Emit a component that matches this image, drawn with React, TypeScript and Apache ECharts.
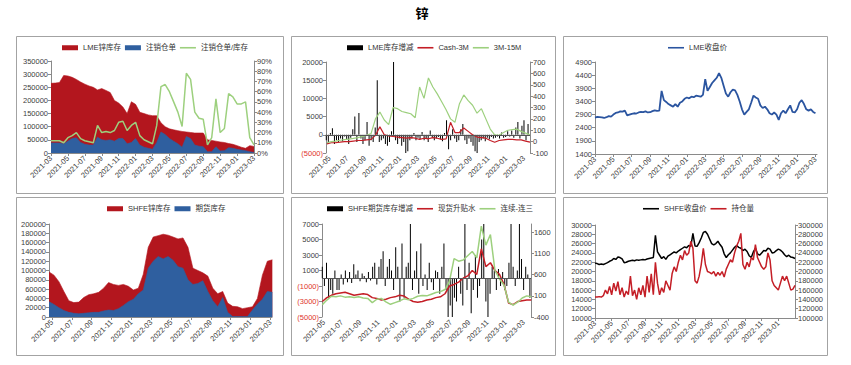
import React, { useEffect, useRef } from 'react';
import * as echarts from 'echarts';

// ---------------- tick labels ----------------
const TICKS_2103_2303 = ['2021-03', '2021-05', '2021-07', '2021-09', '2021-11', '2022-01', '2022-03', '2022-05', '2022-07', '2022-09', '2022-11', '2023-01', '2023-03'];
const TICKS_2105_2303 = ['2021-05', '2021-07', '2021-09', '2021-11', '2022-01', '2022-03', '2022-05', '2022-07', '2022-09', '2022-11', '2023-01', '2023-03'];
const TICKS_2103_2301 = ['2021-03', '2021-05', '2021-07', '2021-09', '2021-11', '2022-01', '2022-03', '2022-05', '2022-07', '2022-09', '2022-11', '2023-01'];

// sampling steps (in months)
const HALF_MONTH = 0.5;
const QUARTER_MONTH = 0.25;
const WEEK = 12 / 52;

// ---------------- Panel 1: LME stock & cancelled warrants (half-monthly from 2021-03-01) ----------------
const P1_START = '2021-03-01';
const LME_STOCK = [265000, 266000, 268000, 295000, 293000, 288000, 280000, 270000, 262000, 255000, 250000, 240000, 245000, 238000, 230000, 200000, 190000, 175000, 150000, 195000, 185000, 155000, 150000, 145000, 142000, 142000, 115000, 100000, 92000, 88000, 85000, 82000, 80000, 78000, 76000, 76000, 76000, 50000, 48000, 45000, 42000, 40000, 36000, 33000, 28000, 22000, 18000, 28000, 25000];
const LME_CANCELLED = [38000, 38000, 38000, 35000, 45000, 55000, 58000, 40000, 33000, 30000, 30000, 60000, 50000, 48000, 50000, 45000, 55000, 55000, 35000, 40000, 55000, 30000, 22000, 18000, 14000, 40000, 80000, 70000, 55000, 45000, 35000, 22000, 63000, 55000, 30000, 26000, 24000, 5000, 5000, 24000, 8000, 9000, 20000, 18000, 14000, 11000, 9000, 5000, 2000];
const LME_CANCEL_RATIO = [12, 12, 12, 10, 15, 17, 20, 14, 12, 11, 10, 27, 20, 21, 20, 22, 30, 31, 22, 27, 30, 17, 13, 11, 9, 27, 65, 67, 60, 50, 40, 26, 78, 72, 40, 34, 33, 8, 15, 53, 20, 24, 58, 55, 48, 48, 50, 15, 8];

// ---------------- Panel 2: LME stock change (weekly), spreads (half-monthly) ----------------
const P2_BAR_START = '2021-04-20';
const LME_STOCK_CHANGE = [-1500, -2000, 500, 1800, -2500, -1500, -2000, -1000, -1800, -500, -1200, -2500, -800, 1500, 5000, -2000, 6000, -1000, -2500, -1500, 3500, -3000, -1500, -2000, 2000, 15000, -2000, -1500, -1000, -2500, -3000, -2000, 1000, 20000, -1500, -2500, -1000, -3000, -2000, -5000, -4500, -1500, -1000, 500, -1500, -800, -1200, 800, -1500, -1000, -2000, 1200, -800, -1500, -1000, -600, -1200, -1800, 500, 4000, -4000, -1500, 1500, -1000, -2000, -1500, 1500, 3000, -1500, -2500, -1000, -2000, -3000, -4500, -5000, -2000, -1500, -1000, -1800, -800, -1200, -600, -1000, -800, -500, -1000, 600, -800, -600, 1000, -500, 1200, -800, 2000, 3500, -1000, 2500, 4000, -1500, 3000];
const P2_LINE_START = '2021-04-22';
const CASH_3M = [-20, -10, -8, -5, 0, 0, 5, 10, 10, 15, 20, 55, 130, 60, 50, 45, 40, 35, 30, 35, 30, 20, 30, 25, 35, 30, 20, 25, 170, 80, 80, 120, 90, 60, 40, 35, 30, 10, -5, 10, 15, 20, 20, 15, 15, 5, -5];
const M3_15M = [-10, 0, 5, 12, 18, 22, 28, 35, 45, 55, 70, 200, 260, 190, 150, 300, 290, 265, 255, 245, 210, 480, 380, 560, 480, 420, 350, 280, 200, 170, 330, 410, 360, 320, 250, 290, 200, 110, 60, 55, 80, 100, 105, 110, 90, 75, 60];

// ---------------- Panel 3: LME close (quarter-monthly from 2021-03-01) ----------------
const P3_START = '2021-03-01';
const LME_CLOSE = [2780, 2810, 2800, 2790, 2770, 2800, 2840, 2820, 2900, 2960, 2980, 3020, 3010, 3050, 2870, 2900, 2930, 2950, 2940, 2980, 3000, 2990, 3020, 2980, 2990, 3030, 3060, 3040, 3050, 3800, 3450, 3380, 3300, 3250, 3200, 3300, 3200, 3350, 3400, 3500, 3550, 3520, 3580, 3560, 3620, 3600, 3580, 3650, 4250, 3800, 3950, 4100, 4200, 4300, 4480, 4300, 4000, 3700, 3580, 3750, 3850, 3820, 3650, 3400, 3100, 2900, 3000, 3100, 3350, 3620, 3550, 3500, 3250, 3150, 3200, 3100, 2950, 2900, 2980, 2900, 2700, 2950, 3050, 2950, 3100, 3250, 3000, 2980, 3100, 3350, 3450, 3300, 3100, 3050, 3100, 3000, 2950];

// ---------------- Panel 4: SHFE stock (half-monthly from 2021-04-22) ----------------
const P4_START = '2021-04-22';
const SHFE_STOCK = [97000, 90000, 76000, 55000, 35000, 31000, 32000, 42000, 48000, 50000, 53000, 62000, 74000, 70000, 68000, 70000, 66000, 58000, 62000, 92000, 150000, 172000, 175000, 178000, 176000, 172000, 168000, 170000, 150000, 105000, 100000, 95000, 88000, 62000, 50000, 55000, 30000, 23000, 22000, 18000, 20000, 22000, 40000, 90000, 120000, 123000];
const SHFE_FUTURES_STOCK = [33000, 27000, 20000, 14000, 10000, 8000, 7000, 8000, 9000, 10000, 10000, 13000, 15000, 14000, 18000, 25000, 33000, 38000, 50000, 58000, 105000, 120000, 130000, 125000, 130000, 122000, 108000, 105000, 80000, 70000, 72000, 78000, 55000, 35000, 22000, 42000, 10000, 1000, 1000, 1000, 1000, 15000, 28000, 38000, 55000, 53000];

// ---------------- Panel 5: SHFE futures stock change (weekly), spot premium & spread (half-monthly) ----------------
const P5_START = '2021-04-26';
const SHFE_STOCK_CHANGE = [1500, -1000, 2000, -2500, -1500, -2000, 1000, -1500, -1500, 500, -800, 1000, -500, 800, -600, 1800, 500, 1000, -400, 600, 300, -500, 800, -300, 1500, 2000, -800, 1500, 2500, 3500, -1000, 1500, 2500, 1000, -1500, 4000, 1500, -3000, 4500, -2500, 1500, 2000, 7000, -1500, 1000, 3500, -2000, 4500, -1000, 500, -1500, 2000, -500, -1500, 1000, 800, -2000, 1500, 4500, -1500, -5000, -3500, -5000, -2500, -3000, 1500, -2000, -3500, 7000, -1500, 2000, -4500, -1500, 3000, -2500, -1000, 5000, 7000, -3000, -5000, -2000, 1500, 1000, -1500, 1200, -1000, 800, -1500, -1000, 2000, 7000, 1500, -1000, 1000, 7000, 2500, -1500, 1500, 500, -2500];
const SPOT_PREMIUM = [-3000, -2500, -2200, -2000, -1900, -1800, -2000, -2200, -2100, -2000, -2100, -2500, -2600, -2800, -2700, -2500, -2400, -2200, -2300, -2700, -3000, -3100, -3000, -2800, -2700, -2500, -2400, -2000, -1000, -800, -500, 0, 300, 1000, 500, 3800, 1500, 2000, 1000, 500, -800, -3200, -3400, -3000, -2900, -2800, -2800];
const CONT_MINUS_THIRD = [-110, 0, 90, 80, 100, 70, 80, 60, 80, 50, 40, -60, 20, 40, -40, -100, -60, -20, 30, 10, 40, 90, 110, 100, 140, 180, 200, 250, 450, 980, 920, 950, 1050, 1150, 1000, 1750, 1300, 1550, 700, 500, 350, -50, -120, -50, 50, 100, 80];

// ---------------- Panel 6: SHFE close & open interest (quarter-monthly from 2021-03-01) ----------------
const P6_START = '2021-03-01';
const SHFE_CLOSE = [21800, 21700, 21500, 21600, 21500, 21700, 21900, 22200, 22400, 22800, 22600, 23100, 23000, 22700, 21900, 22000, 22200, 22300, 22400, 22300, 22500, 22400, 22500, 22600, 22500, 22700, 22800, 22900, 23000, 27800, 24200, 23500, 22800, 23200, 22600, 23300, 23600, 23900, 24200, 24000, 24400, 24700, 25000, 25300, 25100, 25600, 25400, 28200, 25500, 25400, 26200, 27200, 28400, 28600, 28000, 27000, 26000, 25700, 26000, 26500, 25800, 25200, 23800, 23000, 23600, 24000, 24600, 25200, 25600, 25200, 25000, 24500, 24800, 24300, 23400, 23000, 24200, 25000, 23800, 23500, 24000, 24500, 24400, 25000, 24800, 24000, 24100, 24500, 24800, 24600, 24200, 23600, 23200, 23500, 23100, 23000, 22800];
const OPEN_INTEREST = [145000, 145000, 146000, 145000, 148000, 160000, 152000, 168000, 150000, 175000, 158000, 178000, 150000, 165000, 145000, 158000, 150000, 190000, 148000, 160000, 140000, 165000, 150000, 170000, 145000, 190000, 155000, 195000, 150000, 220000, 175000, 150000, 165000, 155000, 180000, 170000, 160000, 195000, 210000, 200000, 220000, 235000, 225000, 245000, 235000, 240000, 265000, 250000, 180000, 175000, 190000, 215000, 250000, 215000, 200000, 198000, 195000, 200000, 190000, 198000, 192000, 200000, 188000, 205000, 215000, 225000, 220000, 240000, 255000, 265000, 282000, 215000, 205000, 220000, 210000, 230000, 225000, 258000, 230000, 220000, 210000, 205000, 210000, 240000, 225000, 180000, 170000, 165000, 160000, 175000, 190000, 180000, 190000, 175000, 160000, 162000, 170000];

// ---------------- helpers ----------------
// month index counted from 2021-01 (2021-03 -> 2)
const toMonth = (s: string) => {
  const [y, m, d] = s.split('-').map(Number);
  return (y - 2021) * 12 + (m - 1) + ((d || 1) - 1) / 30;
};
const fmtMonth = (v: number) => {
  const r = Math.round(v);
  const y = 2021 + Math.floor(r / 12);
  const m = r - (y - 2021) * 12 + 1;
  return `${y}-${String(m).padStart(2, '0')}`;
};
const pts = (start: string, step: number, values: number[]) => {
  const s = toMonth(start);
  return values.map((v, i) => [s + i * step, v]);
};

const AX = '#8a8a8a';
const LBL = '#404040';
const FONT = '"Liberation Sans", Arial, "Noto Sans CJK SC", sans-serif';
const RED_AREA = '#B3161E';
const BLUE_AREA = '#2F5F9F';
const GREEN = '#9DD07E';
const RED_LINE = '#C41E26';
const BLUE_LINE = '#2B55A0';
const NEG = '#E0342C';
const LINE_ICON = 'path://M0,0H24V2.4H0Z';

const plainFmt = (v: number) => String(v);
const negFmt = (v: number) => (v < 0 ? `{neg|(${-v})}` : `${v}`);

const xAx = (gridIndex: number, min: string, max: string, ticks: string[], showLine = true) => {
  const vals = ticks.map(toMonth);
  return {
    type: 'value',
    gridIndex,
    min: toMonth(min),
    max: toMonth(max),
    axisLine: { show: showLine, onZero: false, lineStyle: { color: AX, width: 1 } },
    axisTick: { show: showLine, length: 3, customValues: vals, lineStyle: { color: AX } },
    axisLabel: { customValues: vals, rotate: 45, fontSize: 7.5, color: LBL, margin: 4, formatter: fmtMonth, fontFamily: FONT },
    splitLine: { show: false },
  };
};

const yAx = (gridIndex: number, min: number, max: number, interval: number, position: string, formatter: any = plainFmt, rich?: any, customValues?: number[]) => ({
  type: 'value',
  gridIndex,
  min,
  max,
  interval,
  position,
  axisLine: { show: true, lineStyle: { color: AX, width: 1 } },
  axisTick: { show: true, length: 3, lineStyle: { color: AX }, ...(customValues ? { customValues } : {}) },
  axisLabel: { fontSize: 7.5, color: LBL, margin: 3, formatter, rich, fontFamily: FONT, ...(customValues ? { customValues } : {}) },
  splitLine: { show: false },
});

const areaSeries = (name: string, x: number, y: number, data: number[][], color: string, z: number) => ({
  name, type: 'line', xAxisIndex: x, yAxisIndex: y, data, symbol: 'none', color,
  lineStyle: { width: 0.6, color }, areaStyle: { color, opacity: 1 }, z, clip: true,
});
const lineSeries = (name: string, x: number, y: number, data: number[][], color: string, width: number, z: number) => ({
  name, type: 'line', xAxisIndex: x, yAxisIndex: y, data, symbol: 'none', showSymbol: false, color,
  lineStyle: { width, color }, z, clip: true,
});
const zeroLine = { silent: true, symbol: 'none', label: { show: false }, lineStyle: { color: '#555', width: 1, type: 'solid' }, data: [{ yAxis: 0 }] };
const barSeries = (name: string, x: number, y: number, data: number[][]) => ({
  name, type: 'bar', xAxisIndex: x, yAxisIndex: y, data, barWidth: 1, color: '#000', z: 1, markLine: zeroLine,
});

const legendBase = {
  itemWidth: 16, itemHeight: 5, itemGap: 4, padding: 0,
  textStyle: { fontSize: 7.5, color: '#333', fontFamily: FONT },
};
const rectItem = (name: string) => ({ name, icon: 'rect' });
const lineItem = (name: string) => ({ name, icon: LINE_ICON });

const border = (x: number, y: number, w: number, h: number) => ({
  type: 'rect', silent: true, z: -10,
  shape: { x: x + 0.5, y: y + 0.5, width: w, height: h },
  style: { fill: 'rgba(0,0,0,0)', stroke: '#A3A3A3', lineWidth: 1 },
});

const option: any = {
  animation: false,
  backgroundColor: '#fff',
  textStyle: { fontFamily: FONT },
  graphic: [
    border(16, 36, 267, 157),
    border(291, 36, 264, 157),
    border(563, 36, 264, 157),
    border(16, 197, 267, 158),
    border(291, 197, 264, 158),
    border(563, 197, 264, 158),
    { type: 'text', x: 422, y: 12, silent: true, style: { text: '锌', font: 'bold 13px "Noto Sans CJK SC"', fill: '#000', align: 'center', verticalAlign: 'middle' } },
  ],
  grid: [
    { left: 51, top: 61, width: 203, height: 92 },
    { left: 326, top: 62, width: 204, height: 91 },
    { left: 595, top: 62, width: 222, height: 92 },
    { left: 49, top: 224, width: 223, height: 93 },
    { left: 322, top: 224, width: 209, height: 93 },
    { left: 595, top: 225, width: 200, height: 93 },
  ],
  xAxis: [
    xAx(0, '2021-03-01', '2023-03-01', TICKS_2103_2303),
    xAx(1, '2021-04-19', '2023-03-22', TICKS_2105_2303, false),
    xAx(2, '2021-03-01', '2023-03-06', TICKS_2103_2303),
    xAx(3, '2021-04-22', '2023-03-06', TICKS_2105_2303),
    xAx(4, '2021-04-25', '2023-03-25', TICKS_2105_2303, false),
    xAx(5, '2021-03-01', '2023-03-01', TICKS_2103_2301),
  ],
  yAxis: [
    yAx(0, 0, 350000, 50000, 'left'),
    yAx(0, 0, 90, 10, 'right', (v: number) => `${v}%`),
    yAx(1, -5000, 20000, 5000, 'left', negFmt, { neg: { color: NEG, fontSize: 7.5, fontFamily: FONT } }),
    yAx(1, -100, 700, 100, 'right'),
    yAx(2, 1400, 4900, 500, 'left'),
    yAx(3, 0, 200000, 20000, 'left'),
    yAx(4, -5000, 7000, 2000, 'left', negFmt, { neg: { color: NEG, fontSize: 7.5, fontFamily: FONT } }),
    yAx(4, -400, 1800, 500, 'right', plainFmt, undefined, [-400, 100, 600, 1100, 1600]),
    yAx(5, 10000, 30000, 2000, 'left'),
    yAx(5, 100000, 300000, 20000, 'right'),
  ],
  legend: [
    { ...legendBase, left: 62, top: 44, data: [rectItem('LME锌库存'), rectItem('注销仓单'), lineItem('注销仓单/库存')] },
    { ...legendBase, left: 347, top: 44, data: [rectItem('LME库存增减'), lineItem('Cash-3M'), lineItem('3M-15M')] },
    { ...legendBase, left: 668, top: 44, data: [lineItem('LME收盘价')] },
    { ...legendBase, left: 107, top: 205, data: [rectItem('SHFE锌库存'), rectItem('期货库存')] },
    { ...legendBase, left: 327, top: 205, data: [rectItem('SHFE期货库存增减'), lineItem('现货升贴水'), lineItem('连续-连三')] },
    { ...legendBase, left: 643, top: 205, data: [lineItem('SHFE收盘价'), lineItem('持仓量')] },
  ],
  series: [
    areaSeries('LME锌库存', 0, 0, pts(P1_START, HALF_MONTH, LME_STOCK), RED_AREA, 1),
    areaSeries('注销仓单', 0, 0, pts(P1_START, HALF_MONTH, LME_CANCELLED), BLUE_AREA, 2),
    lineSeries('注销仓单/库存', 0, 1, pts(P1_START, HALF_MONTH, LME_CANCEL_RATIO), GREEN, 1.5, 3),

    barSeries('LME库存增减', 1, 2, pts(P2_BAR_START, WEEK, LME_STOCK_CHANGE)),
    lineSeries('Cash-3M', 1, 3, pts(P2_LINE_START, HALF_MONTH, CASH_3M), RED_LINE, 1.2, 3),
    lineSeries('3M-15M', 1, 3, pts(P2_LINE_START, HALF_MONTH, M3_15M), GREEN, 1.2, 4),

    lineSeries('LME收盘价', 2, 4, pts(P3_START, QUARTER_MONTH, LME_CLOSE), BLUE_LINE, 1.8, 3),

    areaSeries('SHFE锌库存', 3, 5, pts(P4_START, HALF_MONTH, SHFE_STOCK), RED_AREA, 1),
    areaSeries('期货库存', 3, 5, pts(P4_START, HALF_MONTH, SHFE_FUTURES_STOCK), BLUE_AREA, 2),

    barSeries('SHFE期货库存增减', 4, 6, pts(P5_START, WEEK, SHFE_STOCK_CHANGE)),
    lineSeries('现货升贴水', 4, 6, pts(P5_START, HALF_MONTH, SPOT_PREMIUM), RED_LINE, 1.5, 3),
    lineSeries('连续-连三', 4, 7, pts(P5_START, HALF_MONTH, CONT_MINUS_THIRD), GREEN, 1.5, 4),

    lineSeries('SHFE收盘价', 5, 8, pts(P6_START, QUARTER_MONTH, SHFE_CLOSE), '#000', 1.5, 3),
    lineSeries('持仓量', 5, 9, pts(P6_START, QUARTER_MONTH, OPEN_INTEREST), RED_LINE, 1.5, 4),
  ],
};

export default function App() {
  const ref = useRef<HTMLDivElement>(null);
  useEffect(() => {
    document.body.style.margin = '0';
    const chart = echarts.init(ref.current!, undefined, { renderer: 'svg' });
    chart.setOption(option);
    return () => chart.dispose();
  }, []);
  return <div ref={ref} style={{ position: 'absolute', left: 0, top: 0, width: 851, height: 365, background: '#fff' }} />;
}
